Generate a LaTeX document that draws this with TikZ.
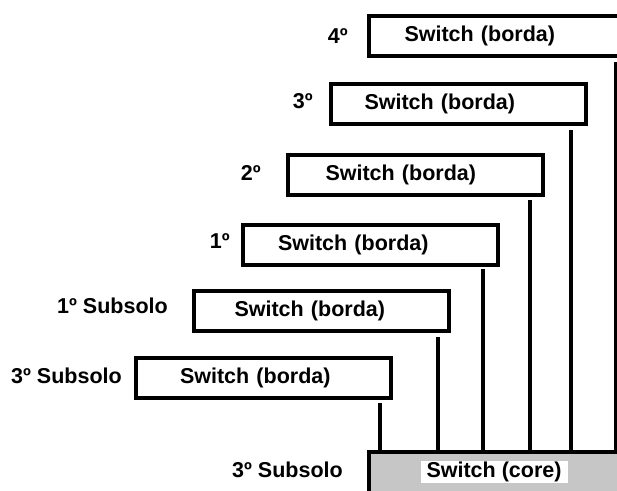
\documentclass[tikz,border=0pt]{standalone}
\usepackage{fontspec}
\setmainfont{Liberation Sans}
\definecolor{coregray}{RGB}{198,198,198}
\begin{document}
\begin{tikzpicture}[x=1pt, y=-1pt,
  every node/.style={font=\fontsize{21.5}{24}\selectfont\bfseries},
  switchbox/.style={draw, line width=4pt, rectangle, text width=255pt,
    minimum height=40pt, inner xsep=0pt, inner ysep=0pt, outer sep=0pt,
    align=left, execute at begin node={\hspace*{#1}}},
  floorlabel/.style={anchor=east, inner sep=0pt},
  uplink/.style={line width=4pt}]
  \clip (0,0) rectangle (617,490);
  \fill[white] (0,0) rectangle (617,490);

  % core switch on the lowest basement
  \node[draw, line width=4pt, fill=coregray, anchor=north west, outer sep=0pt,
        minimum width=300pt, minimum height=60pt, inner sep=0pt] (core) at (369,452) {};
  \node[fill=white, inner xsep=6pt, inner ysep=1pt] (coretxt) at (494,472) {Switch (core)};

  % edge switches, one per floor
  \node[switchbox=36pt] (s4)  at (496,36)    {Switch (borda)};
  \node[switchbox=34pt] (s3)  at (458,103.5) {Switch (borda)};
  \node[switchbox=38pt] (s2)  at (415,175)   {Switch (borda)};
  \node[switchbox=35pt] (s1)  at (370.5,244.5) {Switch (borda)};
  \node[switchbox=41pt] (sb1) at (321,310.5) {Switch (borda)};
  \node[switchbox=44pt] (sb3) at (263.5,377.5) {Switch (borda)};

  % floor labels
  \node[floorlabel] (l4)  at (348,36)  {4º};
  \node[floorlabel] (l3)  at (313,101) {3º};
  \node[floorlabel] (l2)  at (261,173) {2º};
  \node[floorlabel] (l1)  at (230,241) {1º};
  \node[floorlabel] (lb1) at (168,306) {1º Subsolo};
  \node[floorlabel] (lb3) at (122,376) {3º Subsolo};
  \node[floorlabel] (lc)  at (343,470) {3º Subsolo};

  % uplinks from each edge switch down to the core
  \draw[uplink] ([shift={(-8,6)}]s4.south east)      coordinate (u4)  -- (u4 |- core.north);
  \draw[uplink] ([shift={(-15,6.5)}]s3.south east)   coordinate (u3)  -- (u3 |- core.north);
  \draw[uplink] ([shift={(-13,5)}]s2.south east)     coordinate (u2)  -- (u2 |- core.north);
  \draw[uplink] ([shift={(-15,4.5)}]s1.south east)   coordinate (u1)  -- (u1 |- core.north);
  \draw[uplink] ([shift={(-11,6.5)}]sb1.south east)  coordinate (ub1) -- (ub1 |- core.north);
  \draw[uplink] ([shift={(-11,5.5)}]sb3.south east)  coordinate (ub3) -- ([yshift=2pt]ub3 |- core.north);
\end{tikzpicture}
\end{document}
